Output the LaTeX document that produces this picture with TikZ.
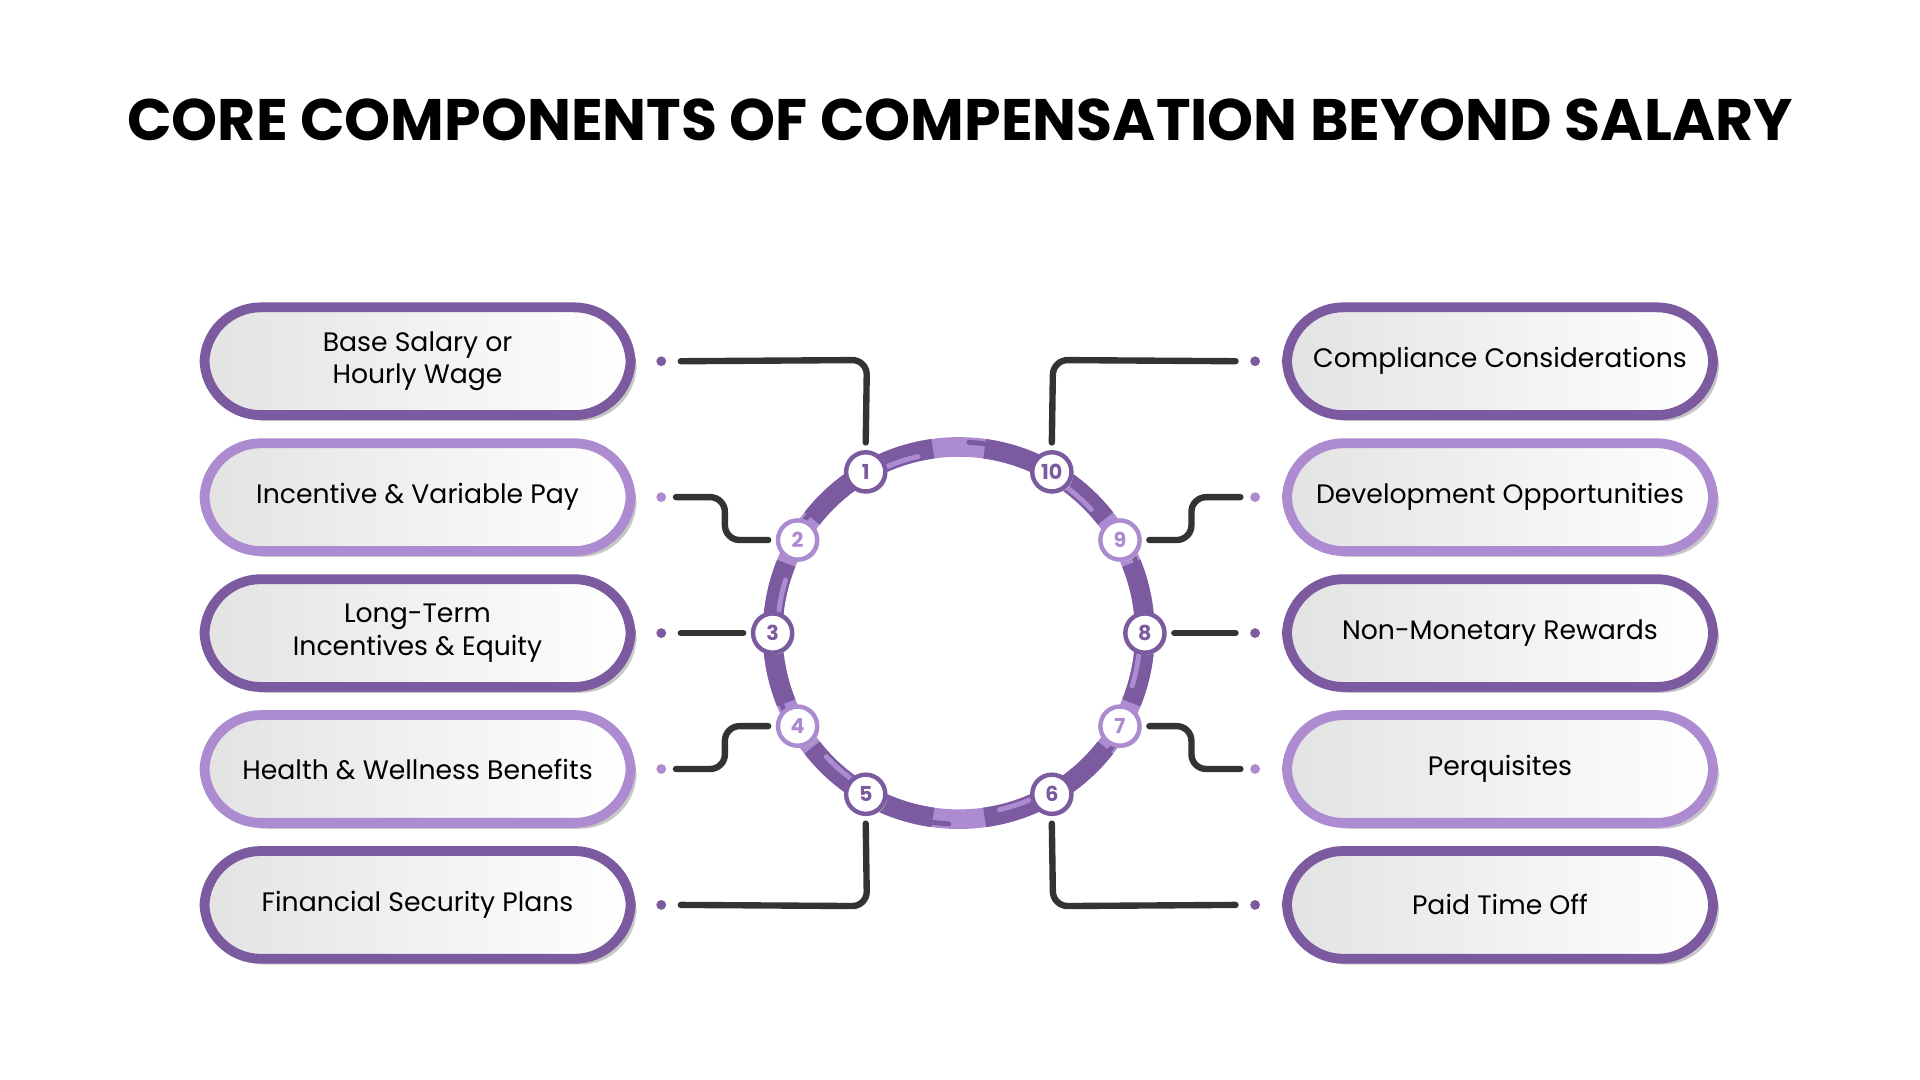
\documentclass[tikz,border=0pt]{standalone}
\usepackage{fontspec}
\setmainfont{Poppins}
\usetikzlibrary{shadows}
\definecolor{darkpur}{HTML}{7B5AA0}
\definecolor{lightpur}{HTML}{AC8BD0}
\definecolor{ink}{HTML}{333333}
\tikzset{
  pill/.style={draw=#1, line width=0.2cm, rounded corners=1.15cm,
    minimum width=8.7cm, minimum height=2.2cm, left color=black!11, right color=white,
    align=center, font=\fontsize{15.5}{19}\selectfont, text=black,
    drop shadow={shadow xshift=0.12cm, shadow yshift=-0.12cm, fill=black!22, opacity=1}},
  num/.style={circle, draw=#1, line width=0.09cm, fill=white, minimum size=0.8cm, inner sep=0pt,
    text=#1, font=\fontsize{12}{12}\selectfont\bfseries,
    drop shadow={shadow xshift=0.04cm, shadow yshift=-0.04cm, fill=black!25, opacity=1}},
  dot/.style={circle, fill=#1, minimum size=0.2cm, inner sep=0pt},
  link/.style={ink, line width=0.13cm, line cap=round, rounded corners=0.3cm},
}
\begin{document}
\begin{tikzpicture}[x=0.025cm, y=-0.025cm]
\useasboundingbox (0,0) rectangle (1568,882);

\node[font=\fontsize{34}{40}\selectfont\bfseries] (title) at (784,98) {CORE COMPONENTS OF COMPENSATION BEYOND SALARY};

% ring
\draw[lightpur, line width=0.4cm] (783,517) circle (152);
\foreach \a in {0,60,120,180,240,300}
  \draw[darkpur, line width=0.4cm] ([shift={(\a-22:152)}]783,517) arc[start angle=\a-22, end angle=\a+22, radius=152];
\foreach \a in {0,60,120,180,240,300} {
  \draw[lightpur, line width=0.1cm, line cap=round] ([shift={(\a+7:148)}]783,517) arc[start angle=\a+7, end angle=\a+17, radius=148];
  \draw[darkpur, line width=0.1cm, line cap=round] ([shift={(\a+33:156)}]783,517) arc[start angle=\a+33, end angle=\a+45, radius=156];
}

% boxes
\node[pill=darkpur]  (b1) at (341,295) {Base Salary or\\Hourly Wage};
\node[pill=lightpur] (b2) at (341,406) {Incentive \& Variable Pay};
\node[pill=darkpur]  (b3) at (341,517) {Long-Term\\Incentives \& Equity};
\node[pill=lightpur] (b4) at (341,628) {Health \& Wellness Benefits};
\node[pill=darkpur]  (b5) at (341,739) {Financial Security Plans};
\node[pill=darkpur]  (b10) at (1225,295) {Compliance Considerations};
\node[pill=lightpur] (b9) at (1225,406) {Development Opportunities};
\node[pill=darkpur]  (b8) at (1225,517) {Non-Monetary Rewards};
\node[pill=lightpur] (b7) at (1225,628) {Perquisites};
\node[pill=darkpur]  (b6) at (1225,739) {Paid Time Off};

% dots
\foreach \i/\y/\c in {1/295/darkpur, 2/406/lightpur, 3/517/darkpur, 4/628/lightpur, 5/739/darkpur}
  \node[dot=\c] (d\i) at (540,\y) {};
\foreach \i/\y/\c in {10/295/darkpur, 9/406/lightpur, 8/517/darkpur, 7/628/lightpur, 6/739/darkpur}
  \node[dot=\c] (d\i) at (1025,\y) {};

% anchor points on the ring
\foreach \i/\a in {1/120, 2/150, 3/180, 4/210, 5/240, 6/300, 7/330, 8/0, 9/30, 10/60}
  \coordinate (p\i) at ([shift={(-\a:152)}]783,517);

% connectors
\coordinate (c1) at (708,294);
\coordinate (c10) at (860,294);
\coordinate (c5) at (708,740);
\coordinate (c6) at (860,740);
\draw[link] ([xshift=0.4cm]d1.center) -- (c1) -- ([yshift=0.6cm]p1);
\draw[link] ([xshift=-0.4cm]d10.center) -- (c10) -- ([yshift=0.6cm]p10);
\draw[link] ([xshift=0.4cm]d5.center) -- (c5) -- ([yshift=-0.6cm]p5);
\draw[link] ([xshift=-0.4cm]d6.center) -- (c6) -- ([yshift=-0.6cm]p6);
\draw[link] ([xshift=0.3cm]d2.center) -- ++(40,0) |- ([xshift=-0.6cm]p2);
\draw[link] ([xshift=0.3cm]d4.center) -- ++(40,0) |- ([xshift=-0.6cm]p4);
\draw[link] ([xshift=-0.3cm]d9.center) -- ++(-40,0) |- ([xshift=0.6cm]p9);
\draw[link] ([xshift=-0.3cm]d7.center) -- ++(-40,0) |- ([xshift=0.6cm]p7);
\draw[link] ([xshift=0.4cm]d3.center) -- ([xshift=-0.6cm]p3);
\draw[link] ([xshift=-0.4cm]d8.center) -- ([xshift=0.6cm]p8);

% numbers on the ring
\foreach \i/\c in {1/darkpur, 2/lightpur, 3/darkpur, 4/lightpur, 5/darkpur,
                   6/darkpur, 7/lightpur, 8/darkpur, 9/lightpur, 10/darkpur}
  \node[num=\c] (n\i) at (p\i) {\i};
\end{tikzpicture}
\end{document}
